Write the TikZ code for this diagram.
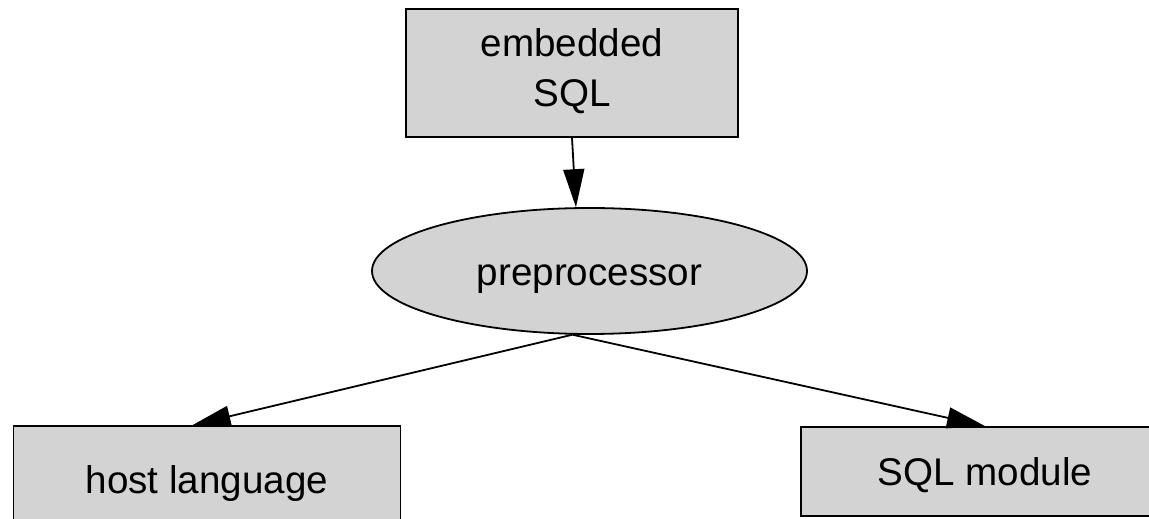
\documentclass[tikz,border=0pt]{standalone}
\usepackage{fontspec}
\setmainfont{Liberation Sans}
\usetikzlibrary{shapes.geometric,arrows.meta}
\definecolor{nodegray}{RGB}{211,211,211}

\begin{document}
\begin{tikzpicture}[x=1pt,y=1pt,
  rectnode/.style={draw,fill=nodegray,line width=1.8pt,inner sep=0pt,
    font=\fontsize{38.6}{50}\selectfont},
  onerow/.style={text height=34.7pt,text depth=5.8pt},
  ovalnode/.style={ellipse,draw,fill=nodegray,line width=1.8pt,inner sep=0pt,
    font=\fontsize{38.6}{50}\selectfont},
  edgearrow/.style={line width=1.8pt,-{Triangle[length=38pt,width=21pt]}}]
\path[use as bounding box,clip] (0,0) rectangle (1149,519);

\node[rectnode,align=center,minimum width=332pt,minimum height=128pt] (embedded) at (572,446) {embedded\\SQL\rule[-10pt]{0pt}{1pt}};
\node[ovalnode,onerow,minimum width=435pt,minimum height=126pt] (prep) at (589.5,248) {preprocessor};
\node[rectnode,onerow,minimum width=387pt,minimum height=106pt] (host) at (207,40) {host language};
\node[rectnode,onerow,minimum width=368pt,minimum height=89pt] (module) at (985,47.5) {SQL module};

\draw[edgearrow] (embedded.south) -- (prep.102);
\draw[edgearrow] (prep.-105) -- (host.105);
\draw[edgearrow] (prep.-105) -- (module.north);

\end{tikzpicture}
\end{document}
